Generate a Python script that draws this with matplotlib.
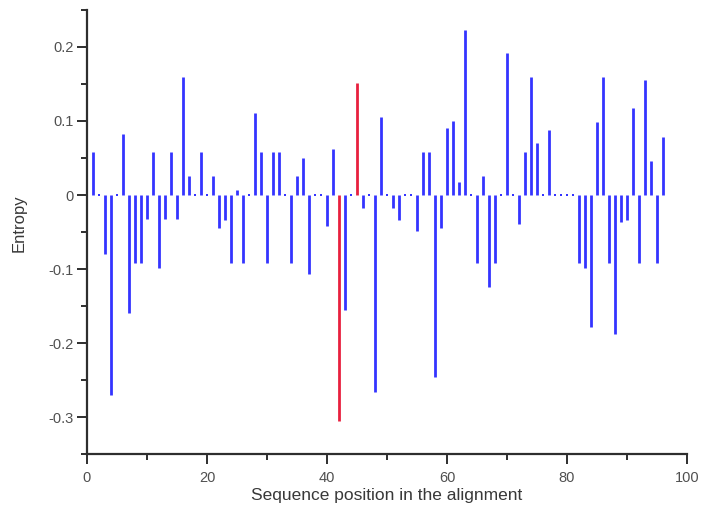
import matplotlib
matplotlib.use("Agg")
import matplotlib.pyplot as plt
from matplotlib.ticker import MultipleLocator

# entropy difference per alignment column (positions 1..96)
positions = list(range(1, 97))
entropy = [
    0.058, 0.0, -0.080, -0.270, 0.0, 0.083, -0.159, -0.092, -0.092, -0.033,
    0.058, -0.098, -0.033, 0.058, -0.033, 0.159, 0.026, 0.0, 0.058, 0.0,
    0.026, -0.044, -0.034, -0.092, 0.007, -0.092, 0.0, 0.111, 0.058, -0.092,
    0.058, 0.058, 0.0, -0.092, 0.026, 0.050, -0.107, 0.0, 0.0, -0.042,
    0.062, -0.305, -0.156, 0.0, 0.152, -0.018, 0.0, -0.266, 0.105, 0.0,
    -0.018, -0.034, 0.0, 0.0, -0.048, 0.058, 0.058, -0.246, -0.045, 0.091,
    0.100, 0.018, 0.223, 0.0, -0.092, 0.026, -0.124, -0.092, 0.0, 0.192,
    0.0, -0.039, 0.058, 0.159, 0.070, 0.0, 0.088, 0.0, 0.0, 0.0,
    0.0, -0.092, -0.098, -0.178, 0.099, 0.159, -0.092, -0.188, -0.036, -0.034,
    0.117, -0.092, 0.155, 0.046, -0.092, 0.079,
]
highlight = [42, 45]

blue = "#3434ff"
red = "#e8203e"
ink = "#2e2e2e"

plt.rcParams["font.family"] = ["Liberation Sans", "DejaVu Sans"]

fig = plt.figure(figsize=(7.02, 5.15), dpi=100)
ax = fig.add_axes([0.1239, 0.1184, 0.8547, 0.8622])

colors = [red if p in highlight else blue for p in positions]
nz = [(p, v, c) for p, v, c in zip(positions, entropy, colors) if v != 0]
ax.vlines([p for p, _, _ in nz], 0, [v for _, v, _ in nz],
          colors=[c for _, _, c in nz], linewidth=2.0, capstyle="butt")

# columns with zero entropy show as small dots on the baseline
zx = [p for p, v in zip(positions, entropy) if v == 0]
ax.plot(zx, [0] * len(zx), linestyle="none", marker="s", markersize=1.8,
        color=blue, markeredgewidth=0)

ax.set_xlim(0, 100)
ax.set_ylim(-0.35, 0.25)

for s in ["top", "right"]:
    ax.spines[s].set_visible(False)
for s in ["left", "bottom"]:
    ax.spines[s].set_linewidth(1.6)
    ax.spines[s].set_color(ink)

ax.xaxis.set_major_locator(MultipleLocator(20))
ax.xaxis.set_minor_locator(MultipleLocator(10))
ax.yaxis.set_minor_locator(MultipleLocator(0.05))
ax.set_yticks([-0.3, -0.2, -0.1, 0, 0.1, 0.2])
ax.set_yticklabels(["-0.3", "-0.2", "-0.1", "0", "0.1", "0.2"])

ax.tick_params(which="major", direction="out", length=7.5, width=1.4,
               color=ink, labelcolor="#505050", labelsize=10.5)
ax.tick_params(which="minor", direction="out", length=4.5, width=1.4, color=ink)
ax.tick_params(axis="y", which="major", pad=2)
ax.tick_params(axis="x", which="major", pad=5)

ax.set_xlabel("Sequence position in the alignment", fontsize=12.5,
              color="#383838", labelpad=2)
ax.set_ylabel("Entropy", fontsize=12, color="#383838")
ax.yaxis.set_label_coords(-0.10, 0.52)

fig.savefig("out.png", dpi=100)
